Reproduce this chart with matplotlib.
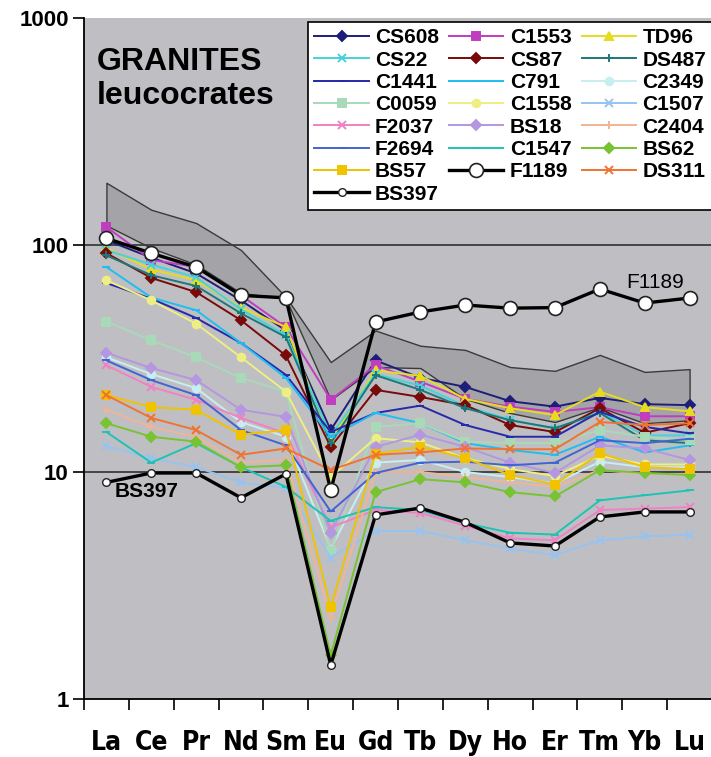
import numpy as np
import matplotlib
matplotlib.use("Agg")
import matplotlib.pyplot as plt
from matplotlib.ticker import FixedLocator, NullLocator, FixedFormatter

plt.rcParams['font.family'] = ['Liberation Sans', 'DejaVu Sans']

ree = ["La", "Ce", "Pr", "Nd", "Sm", "Eu", "Gd", "Tb", "Dy", "Ho", "Er", "Tm", "Yb", "Lu"]

# champ de reference (enveloppe grise)
env_haut = [188, 143, 125, 95, 59, 30.5, 42, 36, 34.5, 29, 27.9, 32.8, 27.6, 28.4]
env_bas = [122, 97, 82, 61.5, 58, 20.8, 29, 28.7, 21, 18.2, 16.6, 19.3, 16.4, 16.9]

CS608 = [105, 88, 75, 57, 42, 15.3, 31, 26, 23.7, 20.5, 19.4, 21.2, 19.9, 19.7]
C1553 = [120, 86, 80, 60, 43.5, 20.8, 29.5, 25, 21, 19.4, 18.4, 19.3, 17.6, 17.6]
TD96 = [97, 78, 70, 53, 43.5, 13.8, 28, 26.5, 21, 19.1, 17.8, 22.6, 19.3, 18.5]
CS22 = [95, 82, 72, 52, 40, 14.5, 27, 24, 19.5, 17, 15.5, 18.5, 14.5, 14.5]
CS87 = [92, 71.6, 62, 46.6, 32.6, 12.9, 23, 21.4, 19.7, 16.1, 15, 19.1, 14.9, 16.4]
DS487 = [90, 73.6, 66, 50, 39.3, 13.4, 26.7, 23, 19.1, 16.9, 15.6, 18.2, 13.8, 13.4]
C1441 = [68, 58, 47.7, 37, 26.8, 15, 18.2, 19.6, 16.1, 14.3, 14.3, 18.4, 15.8, 14.8]
C791 = [80, 58.7, 51.6, 37, 26, 14.3, 18.2, 16.4, 13.4, 12.5, 11.9, 14.3, 12.2, 13.1]
C2349 = [32, 27, 23.4, 16.6, 14.3, 4.6, 11, 11.3, 10, 9.5, 8.9, 11.1, 10.5, 10.5]
C0059 = [46, 38, 32, 26, 22.6, 4.5, 15.8, 16.4, 13.6, 13.4, 13.4, 15.3, 14.3, 13.8]
C1558 = [70, 57, 45, 32, 22.6, 9.5, 14.1, 13.5, 11.5, 10.3, 9.6, 11.8, 10.8, 10.8]
C1507 = [13, 11.5, 10.5, 9, 8.5, 4.2, 5.5, 5.5, 5, 4.6, 4.3, 5, 5.2, 5.3]
F2037 = [29.5, 23.7, 20.8, 17.3, 14.8, 5.7, 6.8, 6.6, 5.8, 5.1, 5, 6.8, 6.9, 7]
BS18 = [33.5, 28.7, 25.4, 18.8, 17.5, 5.4, 12.9, 14.6, 12.9, 11, 9.9, 13.1, 12.7, 11.3]
C2404 = [18.8, 15.8, 14.3, 11, 11.3, 2.27, 10, 10, 9.5, 9, 8.6, 10.2, 9.8, 9.8]
F2694 = [31, 25.4, 21.8, 15.3, 13.1, 6.7, 9.9, 11, 11.1, 10.7, 11, 13.8, 13.4, 14]
C1547 = [15, 11, 13.4, 10.5, 8.6, 6.1, 7, 6.8, 5.95, 5.4, 5.3, 7.5, 7.9, 8.3]
BS62 = [16.4, 14.3, 13.6, 10.5, 10.7, 1.56, 8.15, 9.3, 9, 8.15, 7.8, 10.2, 9.9, 9.7]
BS57 = [21.8, 19.3, 18.8, 14.6, 15.3, 2.54, 12, 12.9, 11.5, 9.7, 8.8, 12.1, 10.5, 10.3]
F1189 = [107, 92, 80, 60, 58.5, 8.3, 45.8, 50.7, 54.4, 52.7, 53, 64, 55.5, 58.4]
DS311 = [21.8, 17.3, 15.3, 11.9, 12.7, 10.2, 11.9, 12.2, 12.7, 12.6, 12.6, 16.6, 16.1, 16.4]
BS397 = [9, 9.9, 9.9, 7.7, 9.8, 1.41, 6.47, 6.94, 6, 4.87, 4.72, 6.34, 6.67, 6.67]

# ordre de la legende (3 colonnes, lu ligne par ligne)
series = [
    ("CS608", CS608, "#1e1e78", "D"), ("C1553", C1553, "#c03cc0", "s"), ("TD96", TD96, "#e6dc1e", "^"),
    ("CS22", CS22, "#46d2dc", "x"), ("CS87", CS87, "#780a0a", "D"), ("DS487", DS487, "#1e7878", "+"),
    ("C1441", C1441, "#2828aa", "_"), ("C791", C791, "#1ebef0", "_"), ("C2349", C2349, "#c8eef0", "o"),
    ("C0059", C0059, "#a8dab8", "s"), ("C1558", C1558, "#eeee82", "o"), ("C1507", C1507, "#96c3f0", "x"),
    ("F2037", F2037, "#f082c3", "x"), ("BS18", BS18, "#b496e1", "D"), ("C2404", C2404, "#f0b496", "+"),
    ("F2694", F2694, "#4164d2", "_"), ("C1547", C1547, "#1ec3b4", "_"), ("BS62", BS62, "#78c332", "D"),
    ("BS57", BS57, "#f0c300", "s"), ("F1189", F1189, "black", "o"), ("DS311", DS311, "#f07332", "x"),
    ("BS397", BS397, "black", "o"),
]

x = np.arange(len(ree))

fig = plt.figure(figsize=(7.11, 7.57), dpi=100)
ax = fig.add_axes([84 / 711, 58 / 757, 628 / 711, 681 / 757])
ax.set_facecolor("#bfbfc3")

ax.fill_between(x, env_bas, env_haut, facecolor="#a4a4a8", edgecolor="#3a3a3a", linewidth=1.0, zorder=1)
ax.axhline(10, color="#3c3c3c", lw=1.3, zorder=1.5)
ax.axhline(100, color="#3c3c3c", lw=1.3, zorder=1.5)

handles = {}
for nom, val, col, mk in series:
    if nom == "F1189":
        h, = ax.plot(x, val, color="black", lw=2.4, marker="o", ms=10, mfc="white", mec="#222222", mew=1.2, zorder=5)
    elif nom == "BS397":
        h, = ax.plot(x, val, color="black", lw=2.4, marker="o", ms=5.5, mfc="white", mec="#222222", mew=1.0, zorder=5)
    else:
        h, = ax.plot(x, val, color=col, lw=1.4, marker=mk, ms=5.5, mew=1.4, zorder=3)
    handles[nom] = h

ax.set_yscale("log")
ax.set_ylim(1, 1000)
ax.set_xlim(-0.5, 13.5)
ax.yaxis.set_major_locator(FixedLocator([1, 10, 100, 1000]))
ax.yaxis.set_major_formatter(FixedFormatter(["1", "10", "100", "1000"]))
ax.yaxis.set_minor_locator(NullLocator())
ax.tick_params(axis="y", which="major", direction="out", length=8, width=1.2, pad=3,
               labelsize=16)
for t in ax.get_yticklabels():
    t.set_fontweight("bold")

ax.set_xticks(x)
ax.set_xticklabels(ree, fontsize=19, fontweight="bold", family="DejaVu Sans", fontstretch="condensed")
ax.set_xticks(np.arange(-0.5, 14, 1), minor=True)
ax.tick_params(axis="x", which="major", length=0, pad=22)
ax.tick_params(axis="x", which="minor", direction="out", length=8, width=1.2)

for s in ["top", "right"]:
    ax.spines[s].set_visible(False)
ax.spines["left"].set_linewidth(1.3)
ax.spines["bottom"].set_linewidth(1.3)

ax.text(0.02, 0.958, "GRANITES\nleucocrates", transform=ax.transAxes, fontsize=23,
        fontweight="bold", ha="left", va="top", linespacing=1.2)
ax.text(12.24, 68.7, "F1189", fontsize=15, ha="center", va="center", zorder=6)
ax.text(0.89, 8.2, "BS397", fontsize=15, fontweight="bold", ha="center", va="center", zorder=6)

# matplotlib remplit la legende colonne par colonne : on reordonne pour une lecture par ligne
ordre = [i for c in range(3) for i in range(c, len(series), 3)]
leg = ax.legend([handles[series[i][0]] for i in ordre], [series[i][0] for i in ordre],
                ncol=3, loc="upper left", bbox_to_anchor=(0.357, 0.994),
                frameon=True, fancybox=False, edgecolor="black", facecolor="white", framealpha=1,
                handlelength=2.6, handletextpad=0.3, columnspacing=0.5, labelspacing=0.16,
                borderpad=0.3, borderaxespad=0, prop={"weight": "bold", "size": 15})
leg.get_frame().set_linewidth(1.2)
leg.set_zorder(10)

fig.savefig("out.png", dpi=100)
